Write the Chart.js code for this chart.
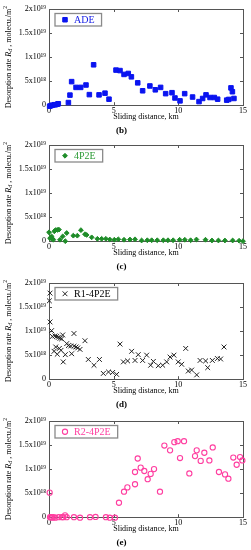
<!DOCTYPE html>
<html>
<head>
<meta charset="utf-8">
<script src="https://cdn.jsdelivr.net/npm/chart.js@4.4.0/dist/chart.umd.min.js"></script>
<style>
  html, body { margin: 0; padding: 0; background: #fff; }
  #wrap { position: relative; width: 251px; height: 550px; overflow: hidden; }
  canvas { position: absolute; left: 0; }
</style>
</head>
<body>
<div id="wrap">
  <canvas id="c1" width="251" height="137" style="top:0px"></canvas>
  <canvas id="c2" width="251" height="137" style="top:136px"></canvas>
  <canvas id="c3" width="251" height="137" style="top:274px"></canvas>
  <canvas id="c4" width="251" height="137" style="top:412px"></canvas>
</div>
<script>
// values are in units of 1e18 molecules/m^2 per sliding distance (km)
const xTickValues = [0, 5, 10, 15];
const yTickValues = [0, 5, 10, 15, 20];
const yTickLabels = ['0', '5x10¹⁸', '1x10¹⁹', '1.5x10¹⁹', '2x10¹⁹'];

const adeX = [0.05, 0.15, 0.26, 0.41, 0.5, 0.64, 0.72, 1.5, 1.62, 1.75, 2.09, 2.45, 2.86, 3.12, 3.45, 3.87, 4.33, 4.64,
  5.18, 5.49, 5.8, 6.13, 6.37, 6.86, 7.24, 7.8, 8.22, 8.63, 9.02, 9.51, 9.74, 10.13, 10.49, 11.1, 11.6, 11.88, 12.14,
  12.45, 12.78, 13.04, 13.74, 13.9, 14.07, 14.18, 14.3];
const adeY = [-0.2, -0.1, 0, 0.1, 0.1, 0.2, 0.3, 0.55, 2.1, 4.9, 3.7, 3.7, 4.2, 2.2, 8.4, 2.15, 2.5, 1.25,
  7.3, 7.2, 6.4, 6.6, 5.9, 4.65, 3.0, 4.0, 3.2, 3.7, 2.4, 2.6, 1.5, 0.9, 2.4, 1.7, 0.75, 1.4, 2.15,
  1.6, 1.6, 1.25, 1.05, 1.2, 3.6, 2.8, 1.4];

const p2eX = [0.0, 0.08, 0.15, 0.2, 0.28, 0.33, 0.41, 0.5, 0.64, 0.77, 0.85, 1.06, 1.26, 1.37, 1.88, 2.19, 2.47, 2.78,
  2.91, 3.3, 3.74, 4.07, 4.4, 4.7, 5.05, 5.36, 5.8, 6.26, 6.65, 7.16, 7.6, 7.94, 8.37, 8.84, 9.2, 9.6, 10.1, 10.5,
  10.95, 11.4, 12.1, 12.6, 13.1, 13.6, 14.2, 14.7, 15.0];
const p2eY = [1.85, 0.6, 0.8, 1.0, 0.5, 0.3, 2.05, 2.3, 2.35, 2.4, 0.3, 1.0, 0.0, 1.7, 1.15, 1.15, 2.3, 1.45,
  1.3, 0.8, 0.5, 0.5, 0.5, 0.35, 0.3, 0.4, 0.3, 0.35, 0.4, 0.15, 0.2, 0.2, 0.2, 0.2, 0.2, 0.2, 0.3, 0.3,
  0.2, 0.35, 0.3, 0.15, 0.15, 0.15, 0.15, 0.1, 0.0];

const r1X = [0.03, 0.08, 0.08, 0.2, 0.26, 0.46, 0.6, 0.72, 0.85, 0.98, 1.06, 0.39, 0.52, 0.64, 0.8, 0.93, 1.1, 1.26,
  1.37, 1.5, 1.68, 1.75, 1.93, 1.93, 2.09, 2.22, 2.4, 2.78, 3.04, 3.48, 3.9, 4.2, 4.6, 4.92, 5.23, 5.49, 5.75,
  6.08, 6.39, 6.65, 6.9, 7.24, 7.55, 7.86, 8.07, 8.45, 8.79, 9.1, 9.36, 9.66, 9.99, 10.26, 10.57, 10.77, 11.03,
  11.42, 11.68, 12.11, 12.27, 12.63, 13.02, 13.27, 13.53];
const r1Y = [16.3, 17.9, 11.9, 10.1, 8.9, 9.0, 8.9, 8.7, 8.5, 8.4, 9.2, 5.8, 6.7, 5.2, 6.4, 6.0, 3.6, 5.1,
  7.4, 7.0, 6.9, 5.3, 9.5, 6.85, 6.7, 6.5, 6.2, 8.0, 4.1, 2.9, 4.1, 1.2, 1.5, 1.4, 1.0, 7.3, 3.6,
  3.8, 5.8, 3.9, 5.1, 3.9, 5.0, 2.9, 3.7, 2.8, 2.9, 3.6, 4.6, 5.0, 3.6, 3.1, 6.4, 1.7, 1.9,
  0.9, 3.9, 3.8, 2.4, 3.9, 4.3, 4.2, 6.7];

const r2X = [0.05, 0.08, 0.15, 0.25, 0.35, 0.5, 0.75, 1.0, 1.1, 1.24, 1.37, 1.93, 2.4, 3.17, 3.6, 4.4, 4.7, 5.1,
  5.41, 5.8, 6.06, 6.65, 6.65, 6.86, 7.09, 7.37, 7.63, 7.86, 8.12, 8.58, 8.92, 9.36, 9.69, 9.95, 10.13, 10.44,
  10.85, 11.29, 11.42, 11.73, 12.01, 12.4, 12.66, 13.14, 13.61, 13.87, 14.25, 14.51, 14.77, 14.95];
const r2Y = [5.1, 0, 0, -0.1, 0, -0.1, 0, 0, 0, 0.4, 0, 0, -0.1, 0, 0.05, 0, -0.1, -0.1,
  3.0, 5.3, 6.2, 6.85, 9.4, 12.2, 10.3, 9.6, 7.9, 9.0, 10.0, 5.3, 14.9, 13.9, 15.6, 15.8, 12.3, 15.8,
  9.1, 12.7, 13.9, 11.7, 13.4, 11.8, 14.5, 9.4, 8.9, 8.0, 12.4, 10.9, 12.5, 11.8];

const SERIF = "'Liberation Serif', 'Times New Roman', serif";

// y-axis title pieces: text, style, baseline shift (+ down / - up), size factor
const yTitleParts = [
  ['Desorption rate ', 'normal', 0, 1],
  ['R', 'italic', 0, 1],
  ['d', 'italic', 2, 0.75],
  [' , molecu./m', 'normal', 0, 1],
  ['2', 'normal', -3, 0.7]
];

function marker(ctx, style, x, y) {
  ctx.save();
  ctx.fillStyle = style.backgroundColor;
  ctx.strokeStyle = style.borderColor;
  ctx.lineWidth = style.borderWidth;
  Chart.helpers.drawPoint(ctx, {pointStyle: style.pointStyle, radius: style.pointRadius, borderWidth: style.borderWidth}, x, y);
  ctx.restore();
}

const decor = {
  id: 'decor',
  beforeDatasetsDraw(chart) {
    const {ctx, chartArea: a, scales: {x, y}} = chart;
    ctx.save();
    ctx.strokeStyle = '#555';
    ctx.lineWidth = 1;
    ctx.strokeRect(Math.round(a.left) + 0.5, Math.round(a.top) + 0.5, Math.round(a.right - a.left), Math.round(a.bottom - a.top));
    ctx.beginPath();
    x.ticks.forEach(t => {
      const px = Math.round(x.getPixelForValue(t.value)) + 0.5;
      ctx.moveTo(px, a.bottom); ctx.lineTo(px, a.bottom - 3);
      ctx.moveTo(px, a.top); ctx.lineTo(px, a.top + 3);
    });
    y.ticks.forEach(t => {
      const py = Math.round(y.getPixelForValue(t.value)) + 0.5;
      ctx.moveTo(a.left, py); ctx.lineTo(a.left + 3, py);
      ctx.moveTo(a.right, py); ctx.lineTo(a.right - 3, py);
    });
    ctx.stroke();
    ctx.restore();
  },
  afterDraw(chart, args, opts) {
    const {ctx, chartArea: a} = chart;
    const ds = chart.data.datasets[0];
    // legend box
    ctx.save();
    ctx.font = '10px ' + SERIF;
    const tw = ctx.measureText(ds.label).width;
    const bx = a.left + 6, by = a.top + 4.5, bw = tw + 26, bh = 12.5;
    ctx.strokeStyle = '#8a8a8a';
    ctx.lineWidth = 1.3;
    ctx.strokeRect(bx, by, bw, bh);
    marker(ctx, ds, bx + 10, by + bh / 2);
    ctx.fillStyle = opts.textColor;
    ctx.textBaseline = 'middle';
    ctx.fillText(ds.label, bx + 19, by + bh / 2 + 0.5);
    ctx.restore();

    // rotated y title
    ctx.save();
    const fs = 8;
    let total = 0;
    yTitleParts.forEach(p => {
      ctx.font = p[1] + ' ' + (fs * p[3]) + 'px ' + SERIF;
      total += ctx.measureText(p[0]).width;
    });
    ctx.translate(8, (a.top + a.bottom) / 2);
    ctx.rotate(-Math.PI / 2);
    ctx.fillStyle = '#000';
    ctx.textBaseline = 'middle';
    let cx = -total / 2;
    yTitleParts.forEach(p => {
      ctx.font = p[1] + ' ' + (fs * p[3]) + 'px ' + SERIF;
      ctx.fillText(p[0], cx, p[2] + 0.5);
      cx += ctx.measureText(p[0]).width;
    });
    ctx.restore();
  }
};

function makePanel(id, label, xs, ys, style, textColor, tag) {
  const points = xs.map((v, i) => ({x: v, y: ys[i]}));
  return new Chart(document.getElementById(id), {
    type: 'scatter',
    data: {
      datasets: [Object.assign({label: label, data: points, clip: false}, style)]
    },
    options: {
      responsive: false,
      animation: false,
      devicePixelRatio: 1,
      layout: {padding: {left: 0, right: 8, top: 9, bottom: 0}},
      plugins: {
        legend: {display: false},
        tooltip: {enabled: false},
        title: {
          display: true,
          position: 'bottom',
          text: tag,
          color: '#000',
          font: {family: SERIF, size: 9, weight: 'bold', lineHeight: 1.2},
          padding: {top: 0, bottom: 1}
        },
        decor: {textColor: textColor}
      },
      scales: {
        x: {
          type: 'linear',
          min: 0, max: 15,
          afterBuildTicks: s => { s.ticks = xTickValues.map(v => ({value: v})); },
          afterFit: s => { s.height = 20; },
          grid: {display: false, drawTicks: false},
          border: {display: false},
          ticks: {color: '#000', padding: 1, font: {family: SERIF, size: 8}, maxRotation: 0},
          title: {
            display: true,
            text: 'Sliding distance, km',
            color: '#000',
            font: {family: SERIF, size: 8, lineHeight: 1.2},
            padding: {top: 0, bottom: 3}
          }
        },
        y: {
          min: 0, max: 20,
          afterBuildTicks: s => { s.ticks = yTickValues.map(v => ({value: v})); },
          afterFit: s => { s.width = 49; },
          grid: {display: false, drawTicks: false},
          border: {display: false},
          ticks: {
            color: '#000', padding: 3, font: {family: SERIF, size: 8},
            callback: v => yTickLabels[yTickValues.indexOf(v)]
          }
        }
      }
    },
    plugins: [decor]
  });
}

makePanel('c1', 'ADE', adeX, adeY,
  {pointStyle: 'rect', pointRadius: 3.2, backgroundColor: '#0a14f0', borderColor: '#0a14f0', borderWidth: 1}, '#1a22e6', '(b)');
makePanel('c2', '4P2E', p2eX, p2eY,
  {pointStyle: 'rectRot', pointRadius: 2.4, backgroundColor: '#1e8c28', borderColor: '#1e8c28', borderWidth: 1}, '#2a9a34', '(c)');
makePanel('c3', 'R1-4P2E', r1X, r1Y,
  {pointStyle: 'crossRot', pointRadius: 3.4, backgroundColor: '#222', borderColor: '#222', borderWidth: 1}, '#000', '(d)');
makePanel('c4', 'R2-4P2E', r2X, r2Y,
  {pointStyle: 'circle', pointRadius: 2.6, backgroundColor: 'rgba(0,0,0,0)', borderColor: '#ff3ea0', borderWidth: 1.1}, '#ff3ea0', '(e)');
</script>
</body>
</html>
